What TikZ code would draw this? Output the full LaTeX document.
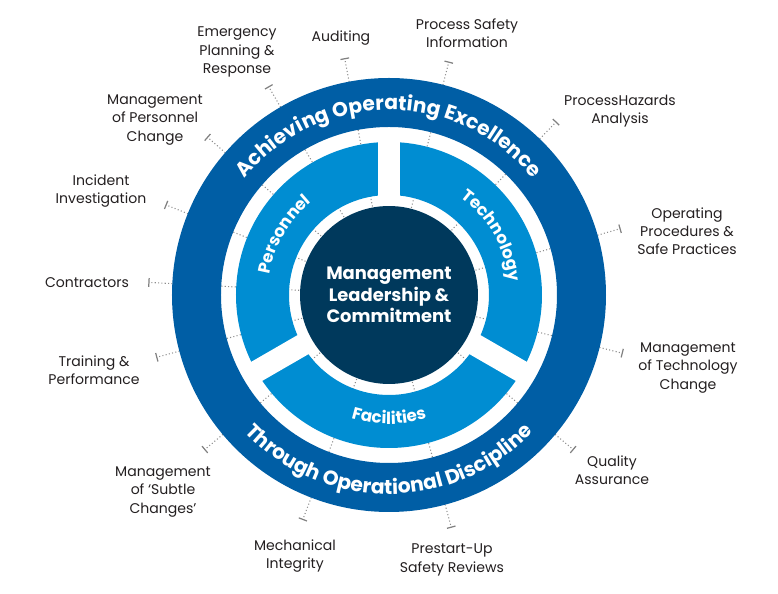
\documentclass[tikz,border=0pt]{standalone}
\usepackage{fontspec}
\setmainfont{Poppins}
\usetikzlibrary{decorations.text,arrows.meta}

\definecolor{ringblue}{RGB}{0,94,165}
\definecolor{segblue}{RGB}{0,141,210}
\definecolor{coreblue}{RGB}{0,57,92}
\definecolor{labeltext}{RGB}{35,31,32}
\definecolor{dotgray}{RGB}{140,140,140}

\tikzset{
  lbl/.style={align=center,font=\fontsize{8}{10.4}\selectfont,text=labeltext,inner sep=0pt},
  dotline/.style={dotgray,line width=0.6pt,dash pattern=on 0.6pt off 1.3pt,
    -{Bar[width=5pt,line width=0.7pt,color=gray]}},
  ringtext/.style={decorate,decoration={text along path,text align=center,text color=white,
    text={|\bfseries\fontsize{11.5}{13}\selectfont|#1}}},
  segtext/.style={decorate,decoration={text along path,text align=center,text color=white,
    text={|\bfseries\fontsize{9.5}{11}\selectfont|#1}}},
}

\begin{document}
\begin{tikzpicture}[x=0.02cm,y=0.02cm]
\useasboundingbox (-389,-299) rectangle (389,295);

  %% etichette e linee punteggiate
  \foreach \i/\a/\lx/\ly/\txt in {
     1/120/-152/243/{Emergency\\Planning \&\\Response},
     2/100.6/-48/257/{Auditing},
     3/75.6/78/262/{Process Safety\\Information},
     4/46/231/184/{ProcessHazards\\Analysis},
     5/16/298/64/{Operating\\Procedures \&\\Safe Practices},
     6/-14/299/-73/{Management\\of Technology\\Change},
     7/-40/223/-175/{Quality\\Assurance},
     8/-75/63/-265/{Prestart-Up\\Safety Reviews},
     9/-111/-94/-261/{Mechanical\\Integrity},
     10/-140/-226/-197/{Management\\of ‘Subtle\\Changes’},
     11/-165/-295/-75/{Training \&\\Performance},
     12/177/-302/12/{Contractors},
     13/158/-288/104/{Incident\\Investigation},
     14/139/-234/175/{Management\\of Personnel\\Change}} {
    \coordinate (s\i) at (\a:90);
    \coordinate (t\i) at (\a:241);
    \node[lbl] (lab\i) at (\lx,\ly) {\txt};
    \draw[dotline] (s\i) -- (t\i);
  }

  %% anello esterno
  \fill[ringblue,even odd rule] (0,0) circle[radius=217] (0,0) circle[radius=168];
  %% settori
  \fill[segblue,even odd rule] (0,0) circle[radius=153] (0,0) circle[radius=100];
  \foreach \a in {90,210,330} \draw[white,line width=0.44cm] (0,0) -- (\a:165);
  %% centro
  \node[circle,fill=coreblue,minimum size=3.56cm,inner sep=0pt,text=white,align=center,
    font=\bfseries\fontsize{10.2}{12.3}\selectfont] (core) at (0,0) {Management\\Leadership \&\\Commitment};

  %% testi curvi
  \path[ringtext={Achieving Operating Excellence}] (150:185) arc[start angle=150,end angle=30,radius=185];
  \path[ringtext={Through Operational Discipline}] (-150:199) arc[start angle=-150,end angle=-30,radius=199];
  \path[segtext={Personnel}] (210:121) arc[start angle=210,end angle=90,radius=121];
  \path[segtext={Technology}] (90:121) arc[start angle=90,end angle=-30,radius=121];
  \path[segtext={Facilities}] (210:129) arc[start angle=210,end angle=330,radius=129];
\end{tikzpicture}
\end{document}
